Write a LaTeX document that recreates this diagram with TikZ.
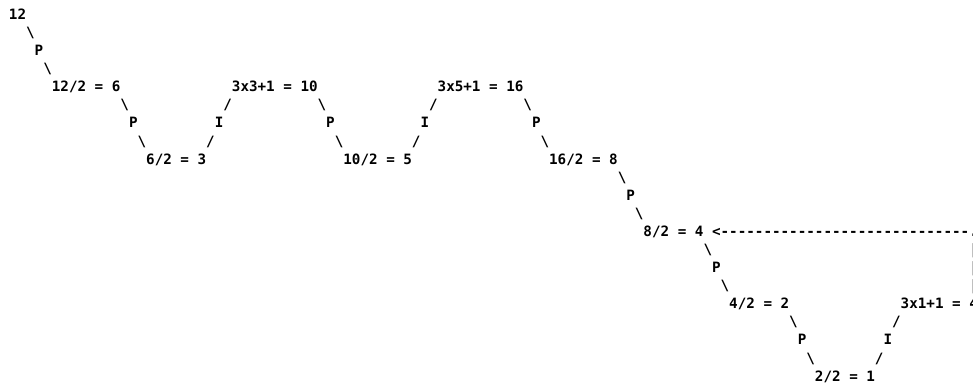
\documentclass[tikz,border=0pt]{standalone}
\usepackage{fontspec}
\setmonofont{DejaVu Sans Mono}
\tikzset{
  mono/.style={inner sep=0pt, outer sep=0pt, anchor=base west,
    font=\ttfamily\bfseries\fontsize{14.24pt}{17pt}\selectfont, text=black}
}
% place a piece of text on the character grid: name, column, row, text
\newcommand\asc[4]{\node[mono] (#1) at ({9+8.574*#2},{-19.5-18.08*#3}) {#4};}
\begin{document}
\begin{tikzpicture}[x=1pt,y=1pt]
\useasboundingbox (0,0) rectangle (973,-385);
\clip (0,0) rectangle (973,-385);
% start value and the first halving
\asc{n12}{0}{0}{12}
\asc{a1}{2}{1}{\textbackslash}
\asc{p1}{3}{2}{P}
\asc{a2}{4}{3}{\textbackslash}
% upper zig-zag
\asc{n6}{5}{4}{12/2 = 6}
\asc{n10}{26}{4}{3x3+1 = 10}
\asc{n16}{50}{4}{3x5+1 = 16}
\asc{a3}{13}{5}{\textbackslash}
\asc{a4}{25}{5}{/}
\asc{a5}{36}{5}{\textbackslash}
\asc{a6}{49}{5}{/}
\asc{a7}{60}{5}{\textbackslash}
\asc{p2}{14}{6}{P}
\asc{i1}{24}{6}{I}
\asc{p3}{37}{6}{P}
\asc{i2}{48}{6}{I}
\asc{p4}{61}{6}{P}
\asc{a8}{15}{7}{\textbackslash}
\asc{a9}{23}{7}{/}
\asc{a10}{38}{7}{\textbackslash}
\asc{a11}{47}{7}{/}
\asc{a12}{62}{7}{\textbackslash}
\asc{n3}{16}{8}{6/2 = 3}
\asc{n5}{39}{8}{10/2 = 5}
\asc{n8}{63}{8}{16/2 = 8}
% descent to 4
\asc{a13}{71}{9}{\textbackslash}
\asc{p5}{72}{10}{P}
\asc{a14}{73}{11}{\textbackslash}
\asc{n4}{74}{12}{8/2 = 4}
% the loop back from 4
\asc{loop}{82}{12}{<-----------------------------.}
\asc{v1}{112}{13}{|}
\asc{v2}{112}{14}{|}
\asc{v3}{112}{15}{|}
% lower zig-zag
\asc{a15}{81}{13}{\textbackslash}
\asc{p6}{82}{14}{P}
\asc{a16}{83}{15}{\textbackslash}
\asc{n2}{84}{16}{4/2 = 2}
\asc{n4b}{104}{16}{3x1+1 = 4}
\asc{a17}{91}{17}{\textbackslash}
\asc{a18}{103}{17}{/}
\asc{p7}{92}{18}{P}
\asc{i3}{102}{18}{I}
\asc{a19}{93}{19}{\textbackslash}
\asc{a20}{101}{19}{/}
\asc{n1}{94}{20}{2/2 = 1}
\end{tikzpicture}
\end{document}
